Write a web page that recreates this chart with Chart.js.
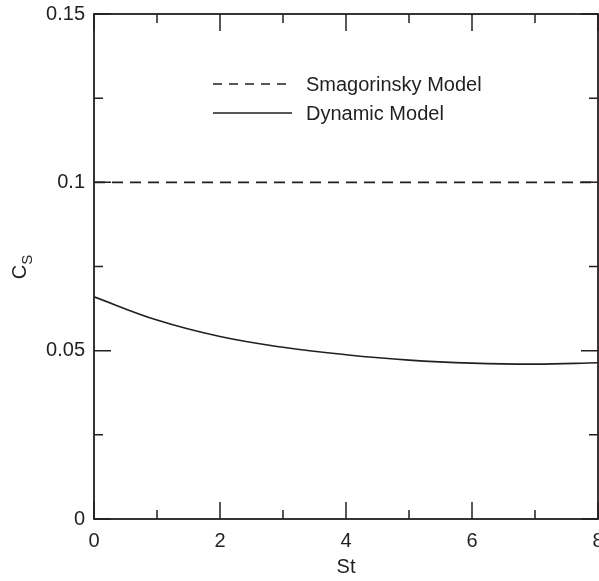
<!DOCTYPE html>
<html>
<head>
<meta charset="utf-8">
<script src="https://cdn.jsdelivr.net/npm/chart.js@4.4.1/dist/chart.umd.min.js"></script>
<style>
  html, body { margin: 0; padding: 0; background: #fff; }
  #wrap { width: 599px; height: 581px; }
</style>
</head>
<body>
<div id="wrap"><canvas id="csChart" width="599" height="581"></canvas></div>
<script>
// values
const stValues = [0, 1, 2, 3, 4, 5, 6, 7, 8];
const smagorinskyCs = [0.1, 0.1, 0.1, 0.1, 0.1, 0.1, 0.1, 0.1, 0.1];
const dynamicCs = [0.0660, 0.0591, 0.0542, 0.0510, 0.0488, 0.0472, 0.0463, 0.0460, 0.0464];

const xMajorTicks = [0, 2, 4, 6, 8];
const xMinorTicks = [1, 3, 5, 7];
const yMajorTicks = [0, 0.05, 0.1, 0.15];
const yMinorTicks = [0.025, 0.075, 0.125];
const legendLabels = ['Smagorinsky Model', 'Dynamic Model'];

const ink = '#231f20';
const fontFamily = '"Liberation Sans", Arial, Helvetica, sans-serif';

function toPoints(xs, ys) {
    return xs.map((x, i) => ({ x: x, y: ys[i] }));
}

// frame + inward ticks on all four sides
const frameAndTicks = {
    id: 'frameAndTicks',
    afterDatasetsDraw(chart) {
        const { ctx, chartArea: a, scales: { x, y } } = chart;
        ctx.save();
        ctx.strokeStyle = ink;
        ctx.setLineDash([]);
        ctx.lineWidth = 1.8;
        ctx.strokeRect(a.left, a.top, a.right - a.left, a.bottom - a.top);
        ctx.lineWidth = 1.5;
        const drawX = (vals, len) => vals.forEach(v => {
            const px = x.getPixelForValue(v);
            ctx.beginPath();
            ctx.moveTo(px, a.bottom); ctx.lineTo(px, a.bottom - len);
            ctx.moveTo(px, a.top); ctx.lineTo(px, a.top + len);
            ctx.stroke();
        });
        const drawY = (vals, len) => vals.forEach(v => {
            const py = y.getPixelForValue(v);
            ctx.beginPath();
            ctx.moveTo(a.left, py); ctx.lineTo(a.left + len, py);
            ctx.moveTo(a.right, py); ctx.lineTo(a.right - len, py);
            ctx.stroke();
        });
        drawX(xMajorTicks, 17);
        drawX(xMinorTicks, 9);
        drawY(yMajorTicks, 17);
        drawY(yMinorTicks, 9);
        ctx.restore();
    }
};

// legend in the upper part of the plot
const lineLegend = {
    id: 'lineLegend',
    afterDraw(chart) {
        const ctx = chart.ctx;
        const rows = [
            { y: 84, dash: [9, 7], text: legendLabels[0] },
            { y: 113, dash: [], text: legendLabels[1] }
        ];
        ctx.save();
        ctx.strokeStyle = ink;
        ctx.fillStyle = ink;
        ctx.lineWidth = 1.6;
        ctx.font = '20px ' + fontFamily;
        ctx.textBaseline = 'middle';
        rows.forEach(r => {
            ctx.setLineDash(r.dash);
            ctx.beginPath();
            ctx.moveTo(213, r.y);
            ctx.lineTo(292, r.y);
            ctx.stroke();
            ctx.fillText(r.text, 306, r.y + 1);
        });
        ctx.restore();
    }
};

// y title "C" with subscript "S"
const yTitle = {
    id: 'yTitle',
    afterDraw(chart) {
        const ctx = chart.ctx;
        ctx.save();
        ctx.fillStyle = ink;
        ctx.translate(26, 267);
        ctx.rotate(-Math.PI / 2);
        ctx.textBaseline = 'alphabetic';
        ctx.font = '20px ' + fontFamily;
        const cw = ctx.measureText('C').width;
        ctx.font = '15px ' + fontFamily;
        const sw = ctx.measureText('S').width;
        const start = -(cw + sw) / 2;
        ctx.font = '20px ' + fontFamily;
        ctx.fillText('C', start, 0);
        ctx.font = '15px ' + fontFamily;
        ctx.fillText('S', start + cw, 6);
        ctx.restore();
    }
};

const ctx = document.getElementById('csChart').getContext('2d');
const csChart = new Chart(ctx, {
    type: 'line',
    data: {
        datasets: [{
            label: legendLabels[0],
            data: toPoints(stValues, smagorinskyCs),
            borderColor: ink,
            borderWidth: 1.6,
            borderDash: [11, 7],
            pointRadius: 0,
            fill: false
        }, {
            label: legendLabels[1],
            data: toPoints(stValues, dynamicCs),
            borderColor: ink,
            borderWidth: 1.6,
            pointRadius: 0,
            tension: 0.4,
            fill: false
        }]
    },
    options: {
        responsive: false,
        animation: false,
        devicePixelRatio: 1,
        layout: { padding: { top: 14, right: 1, left: 0, bottom: 0 } },
        plugins: {
            legend: { display: false },
            tooltip: { enabled: false }
        },
        scales: {
            x: {
                type: 'linear',
                min: 0,
                max: 8,
                grid: { display: false, drawTicks: false },
                border: { display: false },
                ticks: {
                    stepSize: 2,
                    padding: 10,
                    color: ink,
                    font: { family: fontFamily, size: 20 },
                    maxRotation: 0,
                    autoSkip: false
                },
                title: {
                    display: true,
                    text: 'St',
                    color: ink,
                    font: { family: fontFamily, size: 20 },
                    padding: { top: 0, bottom: 2 }
                },
                afterFit(scale) {
                    scale.height = 62;
                    scale.paddingLeft = 0;
                    scale.paddingRight = 0;
                }
            },
            y: {
                min: 0,
                max: 0.15,
                grid: { display: false, drawTicks: false },
                border: { display: false },
                ticks: {
                    stepSize: 0.05,
                    padding: 9,
                    color: ink,
                    font: { family: fontFamily, size: 20 },
                    callback: value => String(Number(value.toFixed(3)))
                },
                afterFit(scale) {
                    scale.width = 94;
                    scale.paddingTop = 0;
                    scale.paddingBottom = 0;
                }
            }
        }
    },
    plugins: [frameAndTicks, lineLegend, yTitle]
});
</script>
</body>
</html>
